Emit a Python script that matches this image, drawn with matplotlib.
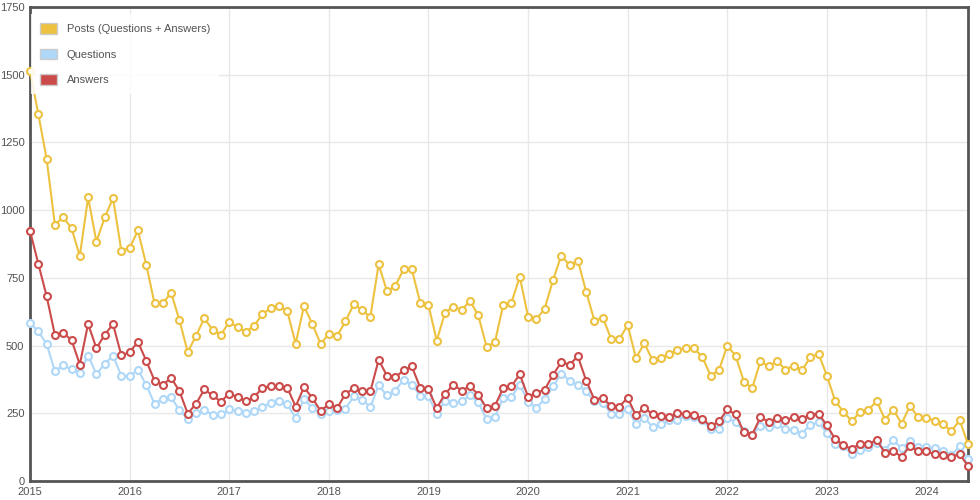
import numpy as np
import matplotlib
matplotlib.use("Agg")
import matplotlib.pyplot as plt
from matplotlib.patches import Patch

plt.rcParams['font.family'] = ['Liberation Sans', 'DejaVu Sans']

# monthly values, Jan 2015 .. Jun 2024
posts = [1515, 1355, 1190, 946, 974, 933, 831, 1047, 884, 973, 1044, 851,
         860, 925, 799, 656, 656, 695, 594, 476, 536, 601, 558, 539,
         588, 567, 551, 573, 616, 639, 645, 627, 507, 645, 581, 507,
         542, 536, 589, 653, 632, 605, 800, 701, 720, 781, 781, 659,
         650, 518, 622, 644, 631, 665, 612, 496, 512, 649, 659, 754,
         607, 597, 636, 741, 832, 797, 814, 699, 591, 603, 526, 524,
         575, 454, 508, 447, 454, 469, 484, 491, 490, 457, 389, 410,
         499, 463, 367, 343, 442, 423, 444, 411, 426, 408, 457, 469,
         389, 295, 255, 221, 255, 263, 295, 227, 263, 212, 277, 236,
         234, 221, 209, 185, 224, 136]

answers = [924, 802, 683, 539, 546, 521, 430, 580, 490, 540, 579, 464,
           475, 514, 444, 371, 355, 381, 332, 249, 285, 338, 316, 293,
           323, 310, 295, 310, 344, 350, 351, 344, 275, 346, 307, 259,
           283, 269, 322, 342, 331, 331, 447, 389, 383, 408, 423, 345,
           338, 269, 322, 355, 334, 350, 319, 269, 277, 343, 350, 394,
           311, 325, 337, 392, 438, 430, 460, 371, 300, 307, 277, 275,
           307, 242, 271, 246, 240, 236, 252, 246, 245, 230, 202, 220,
           264, 246, 181, 171, 236, 218, 232, 224, 236, 230, 245, 249,
           205, 155, 132, 118, 138, 138, 151, 104, 111, 89, 129, 110,
           110, 99, 95, 89, 99, 55]

questions = [585, 552, 506, 405, 427, 412, 400, 463, 394, 432, 463, 388,
             387, 411, 355, 285, 304, 310, 261, 228, 252, 261, 245, 246,
             264, 258, 251, 258, 273, 289, 294, 283, 232, 301, 271, 248,
             258, 263, 267, 312, 300, 273, 353, 316, 334, 373, 356, 315,
             312, 249, 297, 288, 295, 316, 291, 228, 236, 306, 310, 356,
             293, 271, 301, 349, 396, 371, 355, 331, 294, 289, 249, 249,
             267, 209, 234, 199, 212, 224, 227, 240, 236, 224, 191, 191,
             233, 218, 184, 171, 203, 199, 212, 191, 187, 175, 208, 216,
             177, 138, 129, 99, 116, 124, 142, 116, 151, 120, 147, 126,
             124, 120, 111, 95, 129, 81]

years = list(range(2015, 2025))
yticks = [0, 250, 500, 750, 1000, 1250, 1500, 1750]

x = 2015 + np.arange(len(posts)) / 12.0

text_color = '#545454'
c_posts = '#edc240'
c_q = '#afd8f8'
c_a = '#cb4b4b'

fig = plt.figure(figsize=(9.8, 5), dpi=100)
ax = fig.add_axes([30/980, 19/500, 938/980, 474/500])

for vals, col, lab in [(posts, c_posts, 'Posts (Questions + Answers)'),
                       (questions, c_q, 'Questions'),
                       (answers, c_a, 'Answers')]:
    ax.plot(x, vals, color=col, lw=1.5, marker='o', ms=5, mew=1.5,
            mfc='white', mec=col, clip_on=False, zorder=3, label=lab)

ax.set_xlim(x[0], x[-1])
ax.set_ylim(0, 1750)
ax.set_xticks(years)
ax.set_xticklabels([str(y) for y in years])
ax.set_yticks(yticks)
ax.grid(True, color='#e8e8e8', lw=1)
ax.set_axisbelow(True)
ax.tick_params(length=0, labelsize=8, labelcolor=text_color, pad=4)
for s in ax.spines.values():
    s.set_color('#555555')
    s.set_linewidth(2)

handles = [Patch(facecolor=c, edgecolor='#cccccc', lw=1) for c in (c_posts, c_q, c_a)]
leg = ax.legend(handles, ['Posts (Questions + Answers)', 'Questions', 'Answers'],
                loc='upper left', bbox_to_anchor=(-2/938, 1 - 4/474),
                fontsize=8, frameon=True, fancybox=False,
                edgecolor='none', facecolor='white', framealpha=0.85,
                handlelength=1.5, handleheight=1.1, labelspacing=1.3,
                handletextpad=0.9, borderpad=0.8, borderaxespad=0.3)
for t in leg.get_texts():
    t.set_color(text_color)
leg.set_zorder(5)

fig.savefig('out.png', dpi=100)
